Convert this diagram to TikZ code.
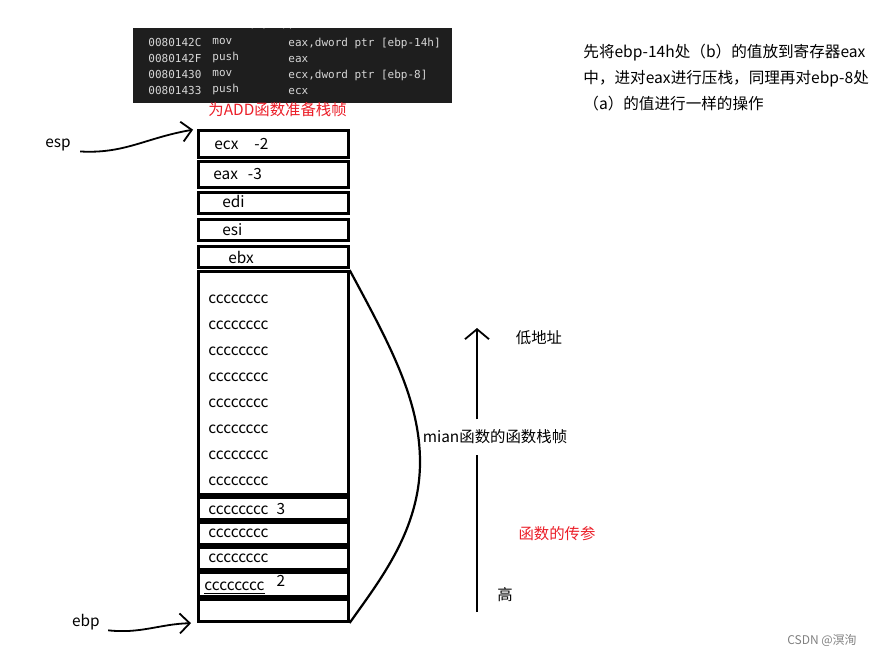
\documentclass[tikz,border=0pt]{standalone}
\usepackage{fontspec}
\setmainfont{Noto Sans CJK SC}
\setmonofont{DejaVu Sans Mono}
\usetikzlibrary{arrows.meta,positioning}

\definecolor{codebg}{RGB}{30,30,30}
\definecolor{codefg}{RGB}{215,215,215}
\definecolor{notered}{RGB}{235,30,40}

\begin{document}
\begin{tikzpicture}[
  x=0.5pt, y=-0.5pt,
  font=\fontsize{7.7}{9}\selectfont,
  slot/.style={draw, line width=1.3pt, text width=65pt, inner xsep=5pt,
    inner ysep=0pt, align=left},
  codecol/.style={anchor=north west, inner sep=0pt, align=left, text=codefg,
    font=\fontsize{5.5}{8}\selectfont\ttfamily},
  note/.style={inner sep=0pt, align=left},
  hand/.style={line width=0.9pt, -{Straight Barb[length=5pt, width=10pt]}}
]
\useasboundingbox (0,0) rectangle (869,655);

% disassembly panel
\node[fill=codebg, anchor=north west, minimum width=159.5pt,
  minimum height=37.5pt, inner sep=0pt] (panel) at (133,28) {};
\begin{scope}
  \clip (panel.north west) rectangle (panel.south east);
  \node[codecol, anchor=west] (call) at (175,24) {int c = ADD(a, b);};
\end{scope}
\node[codecol] (addr) at (148,38) {0080142C\\0080142F\\00801430\\00801433};
\node[codecol] (ops) at (212,38) {mov\\push\\mov\\push};
\node[codecol] (opnd) at (288,38)
  {eax,dword ptr [ebp-14h]\\eax\\ecx,dword ptr [ebp-8]\\ecx};
\node[note, text=notered, anchor=west] (title) at (208,110) {为ADD函数准备栈帧};

\node[note, anchor=north west, font=\fontsize{7.8}{13}\selectfont] (desc) at (583,44)
  {先将ebp-14h处（b）的值放到寄存器eax\\
   中，进对eax进行压栈，同理再对ebp-8处\\
   （a）的值进行一样的操作};

% stack
\node[slot, minimum height=13.7pt, anchor=north west] (ecx) at (197,129)
  {\hspace{3pt}\raisebox{-1pt}{ecx\hspace{8pt}-2}};
\node[slot, minimum height=13.2pt, below=0.5pt of ecx] (eax)
  {\hspace{2.5pt}\raisebox{-1pt}{eax\hspace{5pt}-3}};
\node[slot, minimum height=10.7pt, below=1pt of eax] (edi)
  {\hspace{7pt}\raisebox{2pt}{edi}};
\node[slot, minimum height=10.7pt, below=1.5pt of edi] (esi) {\hspace{7pt}esi};
\node[slot, minimum height=10.7pt, below=1.5pt of esi] (ebx) {\hspace{10pt}ebx};
\node[slot, minimum height=111.7pt, below=0.5pt of ebx,
  font=\fontsize{7.7}{13}\selectfont] (frame)
  {\rule{0pt}{12pt}cccccccc\\cccccccc\\cccccccc\\cccccccc\\
   cccccccc\\cccccccc\\cccccccc\\cccccccc};
\node[slot, minimum height=11.2pt, below=0pt of frame] (arg3)
  {cccccccc\hspace{4pt}3};
\node[slot, minimum height=11.2pt, below=0pt of arg3] (fill1) {cccccccc};
\node[slot, minimum height=11.2pt, below=0pt of fill1] (fill2) {cccccccc};
\node[slot, minimum height=12.2pt, below=0pt of fill2] (arg2)
  {\hspace{-2pt}\underline{cccccccc}\hspace{6pt}\raisebox{2pt}{2}};
\node[slot, minimum height=11.2pt, below=0pt of arg2] (base) {};

\draw[line width=1.1pt] (frame.north east) .. controls (390,345) and (420,400)
  .. (420,462) .. controls (420,530) and (380,580) .. (base.south east);

% pointers
\node[note] (esp) at (58,145) {esp};
\node[note] (ebp) at (86,622) {ebp};
\draw[hand, shorten >=2pt] ([xshift=4.5pt]esp.south east)
  .. controls (125,154) and (145,138) .. (ecx.north west);
\draw[hand, shorten >=3pt] ([xshift=4pt]ebp.south east)
  .. controls (140,634) and (160,624) .. (base.south west);

% address direction
\coordinate (hi) at (477,612);
\coordinate (lo) at (477,328);
\node[note, inner ysep=5pt] (stack) at (495,437) {mian函数的函数栈帧};
\node[note] (low) at (539,338) {低地址};
\node[note] (high) at (505,595) {高};
\node[note, text=notered] (args) at (557,534) {函数的传参};
\draw[line width=0.9pt] (hi) -- (hi |- stack.south);
\draw[line width=0.9pt, -{Straight Barb[length=5pt, width=12pt]}]
  (lo |- stack.north) -- (lo);

\node[note, text=gray, font=\fontsize{6}{7}\selectfont] (mark) at (822,640)
  {CSDN @溟洵};
\end{tikzpicture}
\end{document}
